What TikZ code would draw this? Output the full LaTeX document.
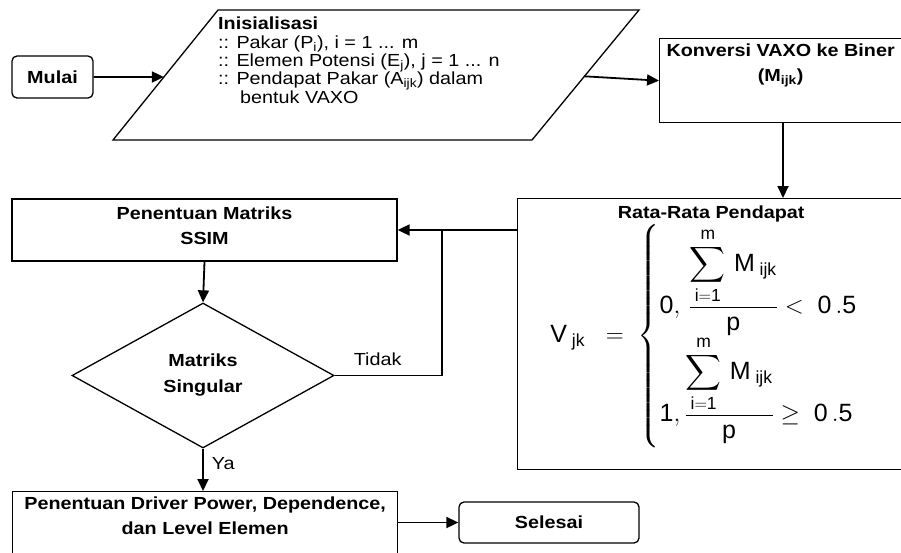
\documentclass[tikz,border=0pt]{standalone}
\usepackage{amsmath}
\usepackage{fontspec}
\setmainfont{Liberation Sans}[FakeStretch=1.13]
\setmathrm{Liberation Sans}
\usetikzlibrary{arrows.meta,shapes.geometric,positioning,calc}

\tikzset{
  flowchart/.style={
    every node/.style={inner sep=0pt,font=\fontsize{17.5}{25}\selectfont},
    box/.style={
        draw,
        line width=1.3pt,
        minimum width=385pt,
    },
    boxtext/.style={
        font=\fontsize{17.5}{25}\selectfont\bfseries,
        align=center,
    },
    terminal/.style={
        draw,
        line width=1.3pt,
        rounded corners=5pt,
        font=\fontsize{17.5}{25}\selectfont\bfseries,
    },
    decision/.style={
        draw,
        line width=1.3pt,
        shape=diamond,
        minimum width=262pt,
        minimum height=145pt,
        align=center,
        font=\fontsize{17.5}{26}\selectfont\bfseries,
    },
    arrow/.style={line width=1.8pt,-{Triangle[length=12pt,width=11pt]}},
    line/.style={line width=1.8pt},
  }
}

\begin{document}
\begin{tikzpicture}[x=1pt, y=-1pt, flowchart]
        \useasboundingbox (0,0) rectangle (901,552);
        \clip (0,0) rectangle (901,552);

        % start
        \node[terminal, minimum width=81pt, minimum height=42pt] (mulai) at (52.5,77) {Mulai};

        % input (parallelogram)
        \coordinate (in_1) at (113,140);
        \coordinate (in_2) at (218,10);
        \coordinate (in_3) at (639,10);
        \coordinate (in_4) at (532,140);
        \draw[line width=1.3pt] (in_1) -- (in_2) -- (in_3) -- (in_4) -- cycle;
        \coordinate (in_left) at ($(in_1)!0.4846!(in_2)$);
        \coordinate (in_right) at ($(in_4)!0.49!(in_3)$);
        \node[anchor=north west, align=left, font=\fontsize{17.5}{18.3}\selectfont] (init) at (218,17)
            {\textbf{Inisialisasi}\\
             :: Pakar (P\textsubscript{i}), i = 1 ... m\\
             :: Elemen Potensi (E\textsubscript{j}), j = 1 ... n\\
             :: Pendapat Pakar (A\textsubscript{ijk}) dalam\\
             \hspace*{22pt}bentuk VAXO};

        % conversion
        \node[box, minimum width=250pt, minimum height=84pt, anchor=north west] (konv) at (659,38) {};
        \node[boxtext, below=6pt of konv.north, xshift=-4pt] (konv_t) {Konversi VAXO ke Biner\\(M\textsubscript{ijk})};

        % average
        \node[box, minimum width=395pt, minimum height=271pt, anchor=north west] (rata) at (517,198) {};
        \node[boxtext, below=8pt of rata.north, xshift=-4pt] (rata_t) {Rata-Rata Pendapat};
        \node (vjk) at (704,336) {\fontsize{25}{28}\selectfont
            $\mathrm{V}_{\;\mathrm{jk}}\;\;=\;\left\{\begin{array}{@{}l@{}}
            \mathrm{0},\,\dfrac{\displaystyle\sum_{\mathrm{i=1}}^{\mathrm{m}}\,\mathrm{M}_{\;\mathrm{ijk}}}{\mathrm{p}}<\;\mathrm{0\,.5}\\[4pt]
            \mathrm{1},\dfrac{\displaystyle\sum_{\mathrm{i=1}}^{\mathrm{m}}\,\mathrm{M}_{\;\mathrm{ijk}}}{\mathrm{p}}\geq\;\mathrm{0\,.5}
            \end{array}\right.$};

        % SSIM
        \node[box, minimum height=62pt] (ssim) at (204.5,230) {};
        \node[boxtext] (ssim_t) at (204.5,226) {Penentuan Matriks\\SSIM};

        % decision
        \node[decision] (sing) at (203,375.5) {Matriks\\Singular};

        % result
        \node[box, minimum height=75pt, anchor=north west] (driver) at (12,491) {};
        \node[boxtext, below=6pt of driver.north] (driver_t) {Penentuan Driver Power, Dependence,\\dan Level Elemen};

        % end
        \node[terminal, minimum width=180pt, minimum height=41pt] (selesai) at (549,522.5) {Selesai};

        \coordinate (join) at (442,230);

        \draw[arrow] (mulai.east) -- (in_left);
        \draw[arrow] (in_right) -- (konv.west);
        \draw[arrow] (konv.south -| 783,0) -- (rata.north -| 783,0);
        \draw[arrow] (rata.west |- ssim.east) -- (ssim.east);
        \draw[arrow] (ssim.south) -- (sing.north);
        \draw[line] (sing.east) -- node[above=9pt, pos=0.4] (tidak) {Tidak} (join |- sing.east) -- (join);
        \draw[arrow] (sing.south) -- node[right=8pt, pos=0.35] (ya) {Ya} (sing.south |- driver.north);
        \draw[arrow] (selesai.west -| driver.east) -- (selesai.west);
    \end{tikzpicture}
\end{document}
